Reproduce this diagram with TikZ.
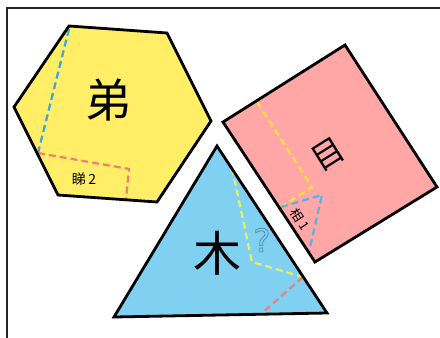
\documentclass[tikz,border=0pt]{standalone}
\usepackage{fontspec}
\newfontfamily\cjk{Noto Sans CJK SC}
\setmainfont{DejaVu Sans}
\definecolor{hexy}{HTML}{FFEE66}
\definecolor{rectp}{HTML}{FFA6A6}
\definecolor{trib}{HTML}{80D0F2}
\definecolor{dblue}{HTML}{3DA5DA}
\definecolor{dorange}{HTML}{EE8070}
\definecolor{dyellow}{HTML}{FFE040}
\definecolor{dyellow2}{HTML}{E8F060}
\definecolor{qcol}{HTML}{4A8AAA}
\tikzset{
  shapeout/.style={draw=black, line width=2.8pt, line join=miter},
  dline/.style={line width=2.2pt, dash pattern=on 7pt off 4pt},
  bigchar/.style={font=\cjk\fontsize{46}{46}\selectfont, inner sep=0pt},
  smallchar/.style={font=\cjk\fontsize{14}{14}\selectfont, inner sep=0pt},
}
\begin{document}
\begin{tikzpicture}[x=1pt,y=-1pt]
\useasboundingbox (0,0) rectangle (440,338);
\fill[white] (0,0) rectangle (440,338);
% frame
\draw[line width=2.6pt, black!85] (7,338) -- (7,8) -- (441,8);
% hexagon
\coordinate (h1) at (69,26);
\coordinate (h2) at (167,33);
\coordinate (h3) at (211,121);
\coordinate (h4) at (157,202);
\coordinate (h5) at (58,195);
\coordinate (h6) at (14,107);
\fill[hexy] (h1) -- (h2) -- (h3) -- (h4) -- (h5) -- (h6) -- cycle;
\coordinate (hb1) at (69,29);
\coordinate (hb2) at (38,153);
\coordinate (ho1) at (129,169);
\coordinate (ho2) at (126,200);
\draw[dline, dblue] (hb1) -- (hb2);
\draw[dline, dorange] (hb2) -- (ho1) -- (ho2);
\draw[shapeout] (h1) -- (h2) -- (h3) -- (h4) -- (h5) -- (h6) -- cycle;
\node[bigchar] (di) at (108,100) {弟};
\node[smallchar] (ti2) at (84,179) {睇\,\textit{2}};
% rectangle
\coordinate (r1) at (345,45);
\coordinate (r2) at (437,187);
\coordinate (r3) at (315,262);
\coordinate (r4) at (223,122);
\fill[rectp] (r1) -- (r2) -- (r3) -- (r4) -- cycle;
\coordinate (ry1) at (257,102);
\coordinate (ry2) at (312,187);
\coordinate (ry3) at (281,207);
\coordinate (rb1) at (322,195);
\coordinate (rb2) at (309,252);
\draw[dline, dyellow] (ry1) -- (ry2) -- (ry3);
\draw[dline, dblue!85] (ry3) -- (rb1) -- (rb2);
\draw[shapeout] (r1) -- (r2) -- (r3) -- (r4) -- cycle;
\node[font=\cjk\fontsize{32}{32}\selectfont, inner sep=0pt, rotate=32] (mu) at (328,154) {目};
\node[font=\cjk\fontsize{13}{13}\selectfont, inner sep=0pt, rotate=-57] (xiang) at (300,219) {相\,1};
% triangle
\coordinate (t1) at (217,146);
\coordinate (t2) at (327,313);
\coordinate (t3) at (114,317);
\fill[trib] (t1) -- (t2) -- (t3) -- cycle;
\coordinate (ty1) at (232,168);
\coordinate (ty2) at (252,262);
\coordinate (ty3) at (303,277);
\coordinate (tr2) at (262,313);
\draw[dline, dyellow2] (ty1) -- (ty2) -- (ty3);
\draw[dline, dorange] (ty3) -- (tr2);
\draw[shapeout] (t1) -- (t2) -- (t3) -- cycle;
\node[font=\cjk\fontsize{48}{48}\selectfont, inner sep=0pt] (mu2) at (217,253) {木};
\node[font=\fontsize{32}{32}\selectfont, inner sep=0pt, text=qcol] (q) at (262,240) {\special{pdf:literal 1 Tr 0.7 w}?\special{pdf:literal 0 Tr}};
\end{tikzpicture}
\end{document}
